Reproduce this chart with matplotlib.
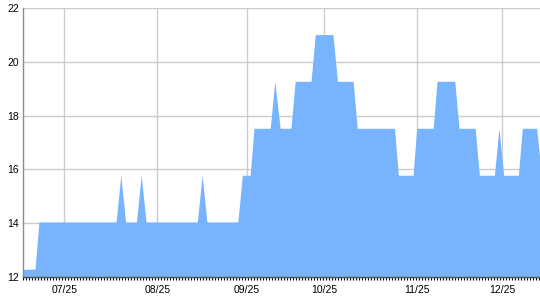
import matplotlib
matplotlib.use("Agg")
import matplotlib.pyplot as plt
from matplotlib.ticker import MultipleLocator, FixedLocator

# x positions (day index) and values of the step-like area
x_days = [0, 3.9, 5.2, 30.9, 32.5, 34.1, 37.7, 39.3, 40.9, 58.0, 59.6, 61.2,
          71.5, 73.0, 75.6, 76.9, 82.3, 83.8, 85.6, 89.2, 90.6, 95.9, 97.3,
          103.2, 104.7, 109.9, 111.3, 123.7, 125.0, 129.9, 131.1, 136.6, 137.9,
          143.8, 145.2, 150.6, 152.0, 157.0, 158.5, 160.1, 165.0, 166.3, 171.1,
          172.7]
values = [12.28, 12.28, 14.04, 14.04, 15.78, 14.04, 14.04, 15.78, 14.04, 14.04,
          15.78, 14.04, 14.04, 15.78, 15.78, 17.53, 17.53, 19.28, 17.53, 17.53,
          19.28, 19.28, 21.02, 21.02, 19.28, 19.28, 17.53, 17.53, 15.78, 15.78,
          17.53, 17.53, 19.28, 19.28, 17.53, 17.53, 15.78, 15.78, 17.53, 15.78,
          15.78, 17.53, 17.53, 15.78]

tick_positions = [13.7, 44.7, 74.5, 100.3, 131.3, 159.7]
tick_labels = ["07/25", "08/25", "09/25", "10/25", "11/25", "12/25"]
y_ticks = [12, 14, 16, 18, 20, 22]

plt.rcParams['font.family'] = ['Liberation Sans', 'DejaVu Sans']

fig = plt.figure(figsize=(5.4, 3.0), dpi=100)
ax = fig.add_axes([23.3 / 540, 23.3 / 300, 1 - 23.3 / 540, (276.7 - 8.3) / 300])

ax.fill_between(x_days, values, 12, color='#78b4fe', linewidth=0, zorder=2)

ax.set_xlim(0, 172.2)
ax.set_ylim(12, 22)

ax.set_yticks(y_ticks)
ax.set_yticklabels([str(v) for v in y_ticks])
ax.xaxis.set_major_locator(FixedLocator(tick_positions))
ax.set_xticklabels(tick_labels)
ax.xaxis.set_minor_locator(MultipleLocator(1))

ax.grid(True, color='#cccccc', linewidth=1.0, zorder=0)
ax.set_axisbelow(True)

for s in ['top', 'right']:
    ax.spines[s].set_visible(False)
ax.spines['left'].set_color('#8c8c8c')
ax.spines['left'].set_linewidth(1.0)
ax.spines['bottom'].set_color('#555555')
ax.spines['bottom'].set_linewidth(1.0)
ax.spines['left'].set_zorder(3)
ax.spines['bottom'].set_zorder(3)

ax.tick_params(axis='y', length=0, pad=3, labelsize=7.5, labelcolor='black')
ax.tick_params(axis='x', which='major', length=0, pad=6, labelsize=7.5,
               labelcolor='black')
ax.tick_params(axis='x', which='minor', length=2.3, width=0.8,
               color='black', direction='out')

fig.savefig("out.png", dpi=100)
